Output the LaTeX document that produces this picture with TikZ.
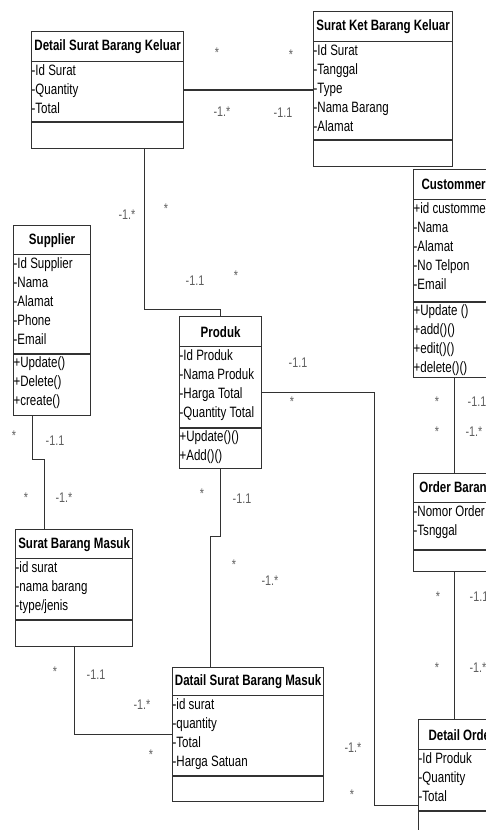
\documentclass[tikz,border=0pt]{standalone}
\usepackage{fontspec}
\newfontfamily\umlfont[FakeStretch=0.77]{Liberation Sans}
\usetikzlibrary{shapes.multipart}

\definecolor{linegray}{RGB}{50,50,50}
\definecolor{labelgray}{RGB}{95,95,95}

% fixed size parts of a class box
\newcommand{\ctitle}[3]{\parbox[c][#1][c]{#2}{\centering\bfseries #3}}
\newcommand{\cpart}[3]{\parbox[c][#1][t]{#2}{\raggedright\strut #3}}

\tikzset{
  umlclass/.style={draw=linegray, line width=1.2pt, rectangle split, rectangle split parts=3,
    inner sep=0pt, anchor=north west, font=\umlfont\fontsize{15}{19}\selectfont},
  mult/.style={font=\umlfont\fontsize{14}{15}\selectfont, text=labelgray, inner sep=0pt},
  assoc/.style={draw=linegray, line width=1.2pt}
}

\begin{document}
\begin{tikzpicture}[x=1pt, y=-1pt]
  \useasboundingbox (0,0) rectangle (486,830);
  \clip (0,0) rectangle (486,830);

  % 1. Class boxes (top left corner, then title / attributes / methods)
  \node[umlclass] (dsbk) at (31,31) {\ctitle{29pt}{152pt}{Detail Surat Barang Keluar}
    \nodepart{two}\cpart{59pt}{152pt}{-Id Surat\\-Quantity\\-Total}
    \nodepart{three}\cpart{25pt}{152pt}{}};

  \node[umlclass] (skbk) at (313,11) {\ctitle{29pt}{139pt}{Surat Ket Barang Keluar}
    \nodepart{two}\cpart{97pt}{139pt}{-Id Surat\\-Tanggal\\-Type\\-Nama Barang\\-Alamat}
    \nodepart{three}\cpart{25pt}{139pt}{}};

  \node[umlclass] (supl) at (13,225) {\ctitle{28pt}{77pt}{Supplier}
    \nodepart{two}\cpart{98pt}{77pt}{-Id Supplier\\-Nama\\-Alamat\\-Phone\\-Email}
    \nodepart{three}\cpart{60pt}{77pt}{+Update()\\+Delete()\\+create()}};

  \node[umlclass] (produk) at (179,316) {\ctitle{29pt}{82pt}{Produk}
    \nodepart{two}\cpart{80pt}{82pt}{-Id Produk\\-Nama Produk\\-Harga Total\\-Quantity Total}
    \nodepart{three}\cpart{39pt}{82pt}{+Update()()\\+Add()()}};

  \node[umlclass] (cust) at (413,169) {\ctitle{29pt}{80pt}{Custommer}
    \nodepart{two}\cpart{101pt}{80pt}{+id custommer\\-Nama\\-Alamat\\-No Telpon\\-Email}
    \nodepart{three}\cpart{74pt}{80pt}{+Update ()\\+add()()\\+edit()()\\+delete()()}};

  \node[umlclass] (order) at (413,473) {\ctitle{28pt}{86pt}{Order Barang}
    \nodepart{two}\cpart{46pt}{86pt}{-Nomor Order\\-Tsnggal}
    \nodepart{three}\cpart{20pt}{86pt}{}};

  \node[umlclass] (dorder) at (418,719) {\ctitle{29pt}{86pt}{Detail Order}
    \nodepart{two}\cpart{60pt}{86pt}{-Id Produk\\-Quantity\\-Total}
    \nodepart{three}\cpart{40pt}{86pt}{}};

  \node[umlclass] (sbm) at (15,529) {\ctitle{28pt}{117pt}{Surat Barang Masuk}
    \nodepart{two}\cpart{60pt}{117pt}{-id surat\\-nama barang\\-type/jenis}
    \nodepart{three}\cpart{25pt}{117pt}{}};

  \node[umlclass] (dsbm) at (172,667) {\ctitle{27pt}{151pt}{Datail Surat Barang Masuk}
    \nodepart{two}\cpart{79pt}{151pt}{-id surat\\-quantity\\-Total\\-Harga Satuan}
    \nodepart{three}\cpart{24pt}{151pt}{}};

  % 2. Associations
  \draw[assoc] (dsbk.east) -- (dsbk.east -| skbk.west);
  \draw[assoc] ([xshift=37pt]dsbk.south) -- ++(0,161) -| (produk.north);
  \draw[assoc] (produk.east) -- ++(112,0) |- ([yshift=-19.5pt]dorder.west);
  \draw[assoc] ([xshift=-19.5pt]supl.south) -- ++(0,44) -| ([xshift=-29.5pt]sbm.north);
  \draw[assoc] (sbm.south) |- (dsbm.west);
  \draw[assoc] (produk.south) -- ++(0,68) -| ([xshift=-37.5pt]dsbm.north);
  \draw[assoc] ([xshift=1pt]cust.south) -- ([xshift=-2pt]order.north);
  \draw[assoc] ([xshift=-2pt]order.south) -- ([xshift=-2pt]order.south |- dorder.north);

  % 3. Multiplicities
  \foreach \x/\y/\t [count=\i] in {217/53/*, 291/55/*, 222/112/-1.*, 283/113/-1.1,
      127/215/-1.*, 166/209/*, 195/281/-1.1, 236/276/*,
      14/436/*, 55/441/-1.1, 26/498/*, 64/498/-1.*,
      298/363/-1.1, 292/402/*,
      202/494/*, 242/499/-1.1, 234/565/*, 270/581/-1.*,
      55/672/*, 96/675/-1.1, 142/705/-1.*, 151/755/*,
      353/748/-1.*, 352/795/*,
      437/402/*, 477/402/-1.1, 437/432/*, 474/432/-1.*,
      438/597/*, 479/597/-1.1, 437/668/*, 478/668/-1.*} {
    \node[mult] (m\i) at (\x,\y) {\t};
  }

\end{tikzpicture}
\end{document}
